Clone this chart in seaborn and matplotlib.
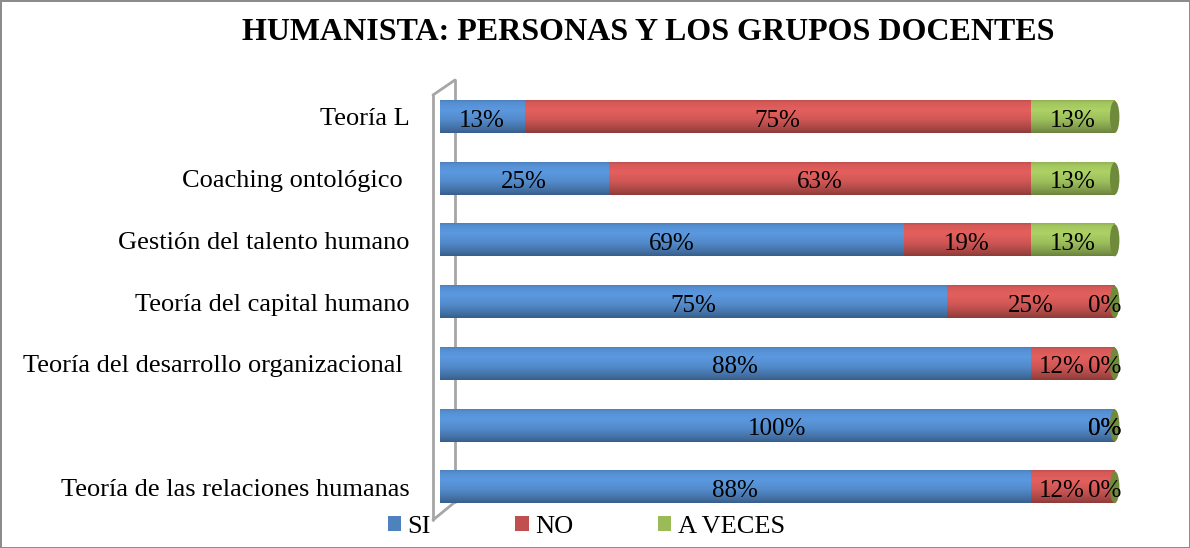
import numpy as np
import pandas as pd
import matplotlib
matplotlib.use("Agg")
import matplotlib.pyplot as plt
import matplotlib.colors as mcolors
import seaborn as sns
from matplotlib.patches import Patch, Ellipse
from matplotlib.lines import Line2D

# data (shares in %)
categorias = ["Teoría L", "Coaching ontológico ", "Gestión del talento humano",
              "Teoría del capital humano", "Teoría del desarrollo organizacional ",
              "", "Teoría de las relaciones humanas"]
si = [12.5, 25.0, 68.75, 75.0, 87.5, 100.0, 87.5]
no = [75.0, 62.5, 18.75, 25.0, 12.5, 0.0, 12.5]
a_veces = [12.5, 12.5, 12.5, 0.0, 0.0, 0.0, 0.0]
lbl_si = ["13%", "25%", "69%", "75%", "88%", "100%", "88%"]
lbl_no = ["75%", "63%", "19%", "25%", "12%", "0%", "12%"]
lbl_av = ["13%", "13%", "13%", "0%", "0%", "0%", "0%"]
series = ["SI", "NO", "A VECES"]

df = pd.DataFrame({"cat": categorias, "SI": si, "NO": no, "AV": a_veces})
df["c1"] = df["SI"]
df["c2"] = df["SI"] + df["NO"]
df["c3"] = df["c2"] + df["AV"]

colors = {"SI": "#5690D3", "NO": "#D75A58", "AV": "#A3C65F"}
legend_colors = ["#4F81BD", "#C0504D", "#9BBB59"]

sns.set_style("white")
plt.rcParams["font.family"] = ["Liberation Serif", "DejaVu Serif"]
plt.rcParams["text.color"] = "black"
plt.rcParams["ytick.color"] = "black"
plt.rcParams["ytick.labelcolor"] = "black"

fig = plt.figure(figsize=(11.9, 5.48), dpi=100)
ax = fig.add_axes([0.3697, 0.0547, 0.567, 0.7883])
ax.set_facecolor("none")

# stacked bars: draw cumulative totals back to front
for col, key in [("c3", "AV"), ("c2", "NO"), ("c1", "SI")]:
    sns.barplot(data=df, x=col, y="cat", order=categorias, orient="h",
                color=colors[key], width=0.52, ax=ax, saturation=1,
                linewidth=0, edgecolor="none")

# cylinder-like shading on each bar
t = np.linspace(0, 1, 48)
shade = np.interp(t, [0, 0.08, 0.3, 0.6, 0.9, 1.0], [0.9, 1.0, 1.06, 0.96, 0.75, 0.66])
for p in list(ax.patches):
    w = p.get_width()
    if w <= 0:
        continue
    x0, y0, h = p.get_x(), p.get_y(), p.get_height()
    base = np.array(mcolors.to_rgb(p.get_facecolor()))
    img = np.clip(shade[:, None] * base[None, :], 0, 1)[:, None, :]
    ax.imshow(img, extent=(x0, x0 + w, y0 + h, y0), aspect="auto",
              interpolation="bilinear", zorder=p.get_zorder() + 0.01)

# dark end caps at the right end of every bar (last series)
for i in range(len(categorias)):
    ax.add_patch(Ellipse((df["c3"][i], i), 1.4, 0.52, facecolor="#6F8A3B",
                         edgecolor="none", zorder=5, clip_on=False))

ax.set_xlim(0, 100)
ax.set_ylim(len(categorias) - 0.5, -0.5)
ax.set_xlabel("")
ax.set_ylabel("")
ax.set_xticks([])
ax.tick_params(axis="y", length=0, pad=22, labelsize=19)
for s in ax.spines.values():
    s.set_visible(False)

# segment labels
for i in range(len(categorias)):
    starts = [0, df["c1"][i], df["c2"][i]]
    widths = [si[i], no[i], a_veces[i]]
    labs = [lbl_si[i], lbl_no[i], lbl_av[i]]
    for k, (st, w, lab) in enumerate(zip(starts, widths, labs)):
        if w > 0:
            nudge = -1.6 if (k < 2 and widths[k + 1] == 0 and w < 20) else 0
            ax.text(st + w / 2 + nudge, i + 0.06, lab, ha="center", va="center",
                    fontsize=18, zorder=6)
        else:
            ax.text(st + 1.0, i + 0.06, lab, ha="right", va="center",
                    fontsize=18, zorder=6, clip_on=False)

# 3-D wall outline on the left (behind the bars)
wall = dict(color="#A6A6A6", lw=2, transform=fig.transFigure, zorder=-1)
fig.add_artist(Line2D([433 / 1190, 433 / 1190], [1 - 95 / 548, 1 - 520 / 548], **wall))
fig.add_artist(Line2D([455 / 1190, 455 / 1190], [1 - 80 / 548, 1 - 502 / 548], **wall))
fig.add_artist(Line2D([433 / 1190, 455 / 1190], [1 - 95 / 548, 1 - 80 / 548], **wall))
fig.add_artist(Line2D([433 / 1190, 455 / 1190], [1 - 520 / 548, 1 - 502 / 548], **wall))

fig.text(0.5445, 1 - 32 / 548, "HUMANISTA: PERSONAS Y LOS GRUPOS DOCENTES",
         ha="center", va="center", fontsize=23, fontweight="bold")

handles = [Patch(facecolor=c, edgecolor="none") for c in legend_colors]
fig.legend(handles, series, loc="center", bbox_to_anchor=(0.4927, 0.038), ncol=3,
           frameon=False, fontsize=19, handlelength=0.5, handleheight=0.5,
           handletextpad=0.25, columnspacing=3.2)

fig.patch.set_edgecolor("#8C8C8C")
fig.patch.set_linewidth(2)

fig.savefig("out.png", dpi=100)
